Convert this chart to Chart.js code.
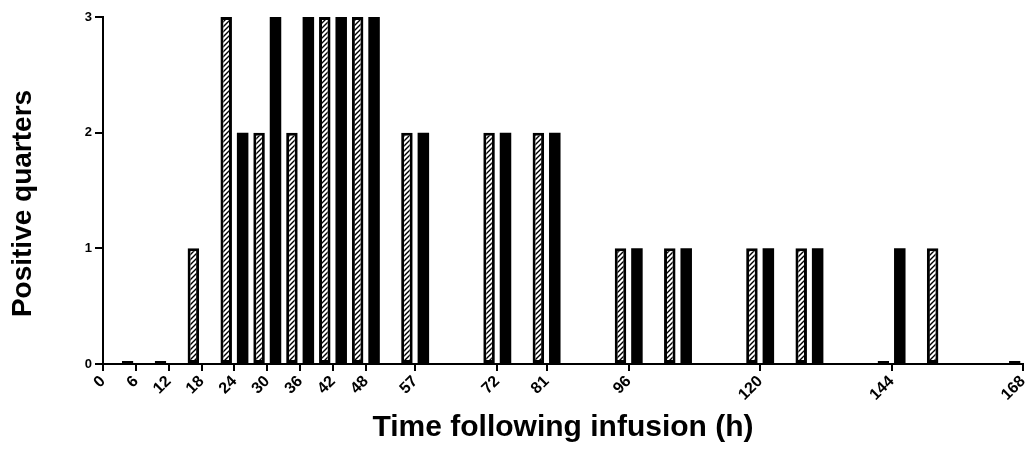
<!DOCTYPE html>
<html>
<head>
<meta charset="utf-8">
<script src="https://cdn.jsdelivr.net/npm/chart.js@4.4.1/dist/chart.umd.min.js"></script>
<style>
  html, body { margin: 0; padding: 0; background: #fff; }
</style>
</head>
<body>
<canvas id="quarters-graph" width="1025" height="450"></canvas>
<script>
// hours after infusion where quarters were sampled
const times = [6, 12, 18, 24, 30, 36, 42, 48, 57, 72, 81, 96, 105, 120, 129, 144, 153, 168];
// positive quarters, hatched series and black series
const hatchedVals = [0, 0, 1, 3, 2, 2, 3, 3, 2, 2, 2, 1, 1, 1, 1, 0, 1, 0];
const blackVals = [0, 0, 0, 2, 3, 3, 3, 3, 2, 2, 2, 1, 1, 1, 1, 1, 0, 0];
// labelled ticks on the time axis
const xTicks = [0, 6, 12, 18, 24, 30, 36, 42, 48, 57, 72, 81, 96, 120, 144, 168];

const fam = 'Arial, "Liberation Sans", sans-serif';

// white fill with thin "/" stripes
function hatch() {
    const c = document.createElement('canvas');
    c.width = 5;
    c.height = 5;
    const g = c.getContext('2d');
    g.fillStyle = '#fff';
    g.fillRect(0, 0, 5, 5);
    g.strokeStyle = '#000';
    g.lineWidth = 1.4;
    g.beginPath();
    g.moveTo(0, 5); g.lineTo(5, 0);
    g.moveTo(-1, 1); g.lineTo(1, -1);
    g.moveTo(4, 6); g.lineTo(6, 4);
    g.stroke();
    return g.createPattern(c, 'repeat');
}

// y title sits a bit below the middle of the axis in the original
const yTitle = {
    id: 'yTitle',
    afterDraw(chart) {
        const a = chart.chartArea;
        const c = chart.ctx;
        c.save();
        c.translate(23, (a.top + a.bottom) / 2 + 13);
        c.rotate(-Math.PI / 2);
        c.font = 'bold 28px ' + fam;
        c.fillStyle = '#000';
        c.textAlign = 'center';
        c.textBaseline = 'middle';
        c.fillText('Positive quarters', 0, 0);
        c.restore();
    }
};

const ctx = document.getElementById('quarters-graph');

new Chart(ctx, {
    type: 'bar',
    data: {
        datasets: [{
            label: 'hatched',
            data: times.map((t, i) => ({ x: t, y: hatchedVals[i] })),
            backgroundColor: hatch(),
            borderColor: '#000',
            borderWidth: 3,
            borderSkipped: false,
            minBarLength: 3
        }, {
            label: 'black',
            data: times.map((t, i) => ({ x: t, y: blackVals[i] })),
            backgroundColor: '#000',
            borderWidth: 0
        }]
    },
    options: {
        responsive: false,
        animation: false,
        datasets: {
            bar: { categoryPercentage: 1, barPercentage: 0.7, clip: false }
        },
        layout: { padding: { top: 17, right: 2, left: 0, bottom: 0 } },
        plugins: {
            legend: { display: false },
            tooltip: { enabled: false }
        },
        scales: {
            x: {
                type: 'linear',
                min: 0,
                max: 168,
                offset: false,
                afterBuildTicks: s => { s.ticks = xTicks.map(v => ({ value: v })); },
                afterFit: s => { s.height = 86; s.paddingRight = 0; },
                border: { display: true, color: '#000', width: 2 },
                grid: { display: true, offset: false, drawOnChartArea: false, drawTicks: true, tickLength: 7, color: '#000', lineWidth: 2 },
                ticks: {
                    color: '#000',
                    autoSkip: false,
                    maxRotation: 45,
                    minRotation: 45,
                    padding: 1,
                    font: { family: fam, size: 16, weight: 'bold' },
                    callback: v => String(v)
                },
                title: {
                    display: true,
                    text: 'Time following infusion (h)',
                    color: '#000',
                    font: { family: fam, size: 30, weight: 'bold' },
                    padding: { top: 0, bottom: 4 }
                }
            },
            y: {
                min: 0,
                max: 3,
                afterFit: s => { s.width = 103; },
                border: { display: true, color: '#000', width: 2 },
                grid: { display: true, drawOnChartArea: false, drawTicks: true, tickLength: 8, color: '#000', lineWidth: 2 },
                ticks: {
                    stepSize: 1,
                    color: '#000',
                    padding: 3,
                    font: { family: fam, size: 13, weight: 'bold' }
                },
                title: { display: false }
            }
        }
    },
    plugins: [yTitle]
});
</script>
</body>
</html>
